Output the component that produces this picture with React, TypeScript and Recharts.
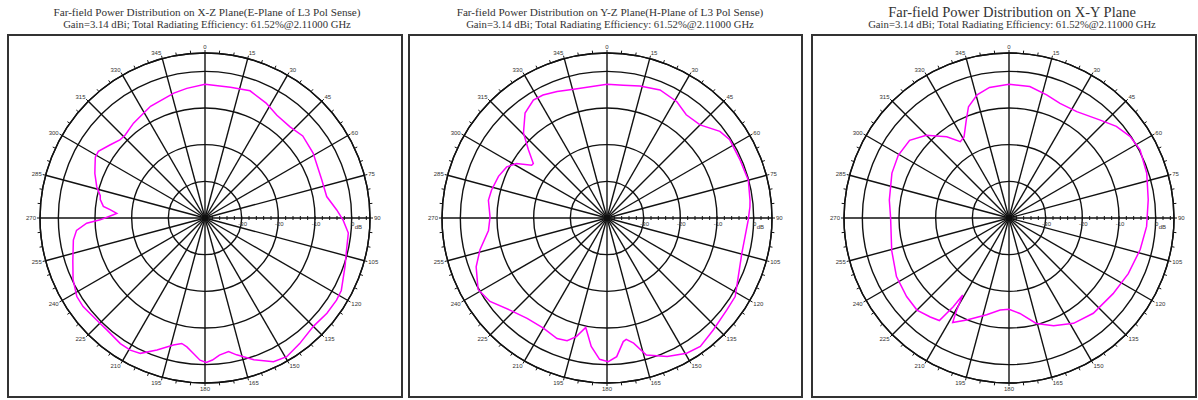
import { RadarChart, Radar, PolarGrid, PolarAngleAxis, PolarRadiusAxis } from "recharts";

const XZ_ANGLES = [0, 11, 19.5, 28, 35, 43, 50, 59, 72, 80, 86.5, 91, 96, 103, 109, 118, 122, 128, 135, 143, 149.5, 154.5, 161, 167, 170, 174, 177, 179.5, 182, 185, 188, 190.5, 194, 200, 205.5, 209.5, 214, 221, 227, 234, 238.5, 245, 252, 260.5, 264.5, 267.5, 269, 272, 273, 275, 276.5, 280, 282, 286, 292, 295, 299, 302, 307.5, 312.5, 316, 323, 334, 346, 352];
const XZ_GAIN = [-3.5, -3.7, -3.2, -4.5, -5.8, -6.0, -5.2, -5.6, -6.5, -6.3, -4.0, -2.3, -0.7, -0.4, 0.4, 2.1, 2.3, 2.2, 1.8, 2.9, 3.9, 3.4, 0.9, -1.7, -3.0, -2.4, -1.2, -0.6, -1.2, -3.0, -4.5, -5.2, -4.3, -1.7, 0.9, 1.4, 1.3, 0.6, 0.6, 1.1, 1.0, -0.3, -2.1, -3.6, -4.8, -7.7, -11.4, -15.0, -15.9, -14.0, -12.1, -11.0, -10.8, -9.3, -7.6, -6.9, -5.8, -5.7, -7.3, -8.5, -8.6, -7.6, -6.1, -4.9, -4.3];

const YZ_ANGLES = [0, 7, 14, 22.5, 31, 37.5, 45, 52.5, 57.5, 66.5, 75, 83, 85.5, 91, 97.5, 104.5, 114, 121.5, 127.5, 136.5, 144, 149.5, 156.5, 164, 168, 171, 172.5, 176, 179.5, 183, 187, 191, 194.5, 198, 202.5, 210, 218.5, 226.5, 234.5, 241, 249.5, 256, 264, 270.5, 278.5, 283.5, 291, 297, 301, 305, 306.5, 311, 315.5, 322, 328, 332.5, 338.5, 345.5];
const YZ_GAIN = [-3.5, -3.5, -2.9, -2.2, -3.0, -4.5, -4.1, -1.2, -0.3, -0.4, -0.1, -0.7, -0.9, -1.5, -2.0, -2.0, -0.8, 1.0, 1.2, 2.1, 3.3, 2.8, 1.2, -1.1, -5.1, -6.5, -6.0, -2.1, -0.8, -1.4, -4.7, -9.6, -6.6, -4.8, -4.4, -5.3, -5.0, -3.5, -0.8, 0.2, -1.9, -4.3, -7.5, -8.1, -7.3, -7.6, -8.3, -9.3, -11.2, -14.9, -15.0, -11.6, -7.5, -3.7, -2.1, -2.2, -2.9, -3.7];

const XY_ANGLES = [0, 9, 17, 24, 32.5, 43, 49.5, 56, 62.5, 72, 82.5, 93.5, 103.5, 115, 126, 138.5, 148.5, 157.5, 165.5, 173.5, 180, 185.5, 193, 202.5, 208.3, 209.6, 211, 212.1, 214.2, 218.5, 225, 232.5, 242.5, 254.5, 270.5, 278.5, 291, 299.5, 308, 315, 322.5, 327.5, 331, 336.5, 340, 345.5, 351.5];
const XY_GAIN = [-3.5, -3.7, -4.9, -5.8, -5.6, -3.5, -1.5, -0.2, 0.3, -0.5, -1.7, -2.4, -3.2, -4.1, -4.9, -5.3, -6.3, -8.2, -10.3, -13.8, -15.1, -14.8, -12.9, -9.9, -7.6, -11.1, -15.5, -11.4, -6.2, -5.5, -4.5, -4.8, -5.4, -6.8, -7.7, -7.0, -5.8, -5.3, -5.6, -8.1, -12.1, -15.3, -14.7, -10.8, -7.7, -5.3, -4.0];

const SUBTITLE = "Gain=3.14 dBi; Total Radiating Efficiency: 61.52%@2.11000 GHz";
const TITLES = [
  "Far-field Power Distribution on X-Z Plane(E-Plane of L3 Pol Sense)",
  "Far-field Power Distribution on Y-Z Plane(H-Plane of L3 Pol Sense)",
  "Far-field Power Distribution on X-Y Plane",
];

const SPOKES = [0, 15, 30, 45, 60, 75, 90, 105, 120, 135, 150, 165, 180, 195, 210, 225, 240, 255, 270, 285, 300, 315, 330, 345];
const ANGLE_TICKS = Array.from({ length: 72 }, (_, i) => i * 5);
const RADIUS_TICKS = Array.from({ length: 23 }, (_, i) => -40 + i * 2);
const RADIUS_LABELS = [-30, -20, -10, 0];
const GRID_DB = [-30, -20, -10, 0, 5];

const DB_MIN = -40;
const DB_MAX = 5;
const OUTER_R = 165;
const FRAME_TOP = 35;
const FRAME_H = 363;
const CY = 218;
const INK = "#111";
const LABEL_FONT = "'Liberation Sans', Arial, sans-serif";
const TITLE_FONT = "'Liberation Serif', 'Times New Roman', serif";

const PANELS = [
  { angles: XZ_ANGLES, gain: XZ_GAIN, left: 8, width: 394, cx: 205, titleX: 207, titleSize: 11.2 },
  { angles: YZ_ANGLES, gain: YZ_GAIN, left: 409, width: 393, cx: 607, titleX: 610, titleSize: 11.2 },
  { angles: XY_ANGLES, gain: XY_GAIN, left: 812, width: 384, cx: 1009, titleX: 1012, titleSize: 14.5 },
];

function AngleTick(props: any) {
  const { x, y, payload, textAnchor } = props;
  const v = Math.round(payload.value);
  if (v % 15 !== 0) return <g />;
  const a = (v * Math.PI) / 180;
  return (
    <text
      x={x + Math.sin(a)}
      y={y - Math.cos(a) * 3}
      textAnchor={textAnchor}
      dominantBaseline="central"
      fontSize={6}
      fill="#333"
      fontFamily={LABEL_FONT}
    >
      {v}
    </text>
  );
}

function RadiusTick(props: any) {
  const { x, y, payload } = props;
  const v = payload.value;
  return (
    <g>
      <line x1={x} y1={y - 2} x2={x} y2={y + 2} stroke={INK} strokeWidth={1} />
      {RADIUS_LABELS.includes(v) && (
        <text x={x + 1} y={y + 8} textAnchor="middle" fontSize={6} fill="#333" fontFamily={LABEL_FONT}>
          {v}
        </text>
      )}
      {v === 0 && (
        <text x={x + 3} y={y + 11} fontSize={6} fill="#333" fontFamily={LABEL_FONT}>
          dB
        </text>
      )}
    </g>
  );
}

function PolarPanel({ angles, gain, left, width, cx }: any) {
  const data = angles.map((angle: number, i: number) => ({ angle, gain: gain[i] }));
  const rScale = (db: number) => ((db - DB_MIN) / (DB_MAX - DB_MIN)) * OUTER_R;
  return (
    <div style={{ position: "absolute", left, top: FRAME_TOP, width, height: FRAME_H }}>
      <RadarChart
        width={width}
        height={FRAME_H}
        data={data}
        cx={cx - left}
        cy={CY - FRAME_TOP}
        innerRadius={0}
        outerRadius={OUTER_R}
        startAngle={90}
        endAngle={-270}
        margin={{ top: 0, right: 0, bottom: 0, left: 0 }}
      >
        <PolarGrid
          gridType="circle"
          polarAngles={SPOKES.map((a) => 90 - a)}
          polarRadius={GRID_DB.map(rScale)}
          stroke={INK}
          strokeWidth={1.4}
        />
        <PolarAngleAxis
          dataKey="angle"
          type="number"
          domain={[0, 360]}
          ticks={ANGLE_TICKS}
          tick={AngleTick}
          tickSize={3}
          tickLine={{ stroke: INK, strokeWidth: 1 }}
          axisLine={{ stroke: INK, strokeWidth: 1.4 }}
          axisLineType="circle"
        />
        <PolarRadiusAxis
          angle={0}
          type="number"
          domain={[DB_MIN, DB_MAX]}
          ticks={RADIUS_TICKS}
          tick={RadiusTick}
          axisLine={false}
          tickLine={false}
          allowDataOverflow
        />
        <Radar
          dataKey="gain"
          stroke="#ff00ff"
          strokeWidth={1.5}
          fill="none"
          fillOpacity={0}
          dot={false}
          isAnimationActive={false}
        />
      </RadarChart>
    </div>
  );
}

export default function App() {
  return (
    <div style={{ position: "absolute", left: 0, top: 0, width: 1198, height: 400, background: "#fff" }}>
      <svg width={1198} height={400} style={{ position: "absolute", left: 0, top: 0 }}>
        {PANELS.map((p, i) => (
          <g key={i}>
            <text
              x={p.titleX}
              y={i === 2 ? 17 : 16}
              textAnchor="middle"
              fontSize={p.titleSize}
              fill="#333"
              fontFamily={TITLE_FONT}
            >
              {TITLES[i]}
            </text>
            <text x={p.titleX} y={28} textAnchor="middle" fontSize={10.7} fill="#333" fontFamily={TITLE_FONT}>
              {SUBTITLE}
            </text>
            <rect x={p.left} y={FRAME_TOP} width={p.width} height={FRAME_H - 1} fill="none" stroke="#333" strokeWidth={2} />
          </g>
        ))}
      </svg>
      {PANELS.map((p, i) => (
        <PolarPanel key={i} {...p} />
      ))}
    </div>
  );
}
